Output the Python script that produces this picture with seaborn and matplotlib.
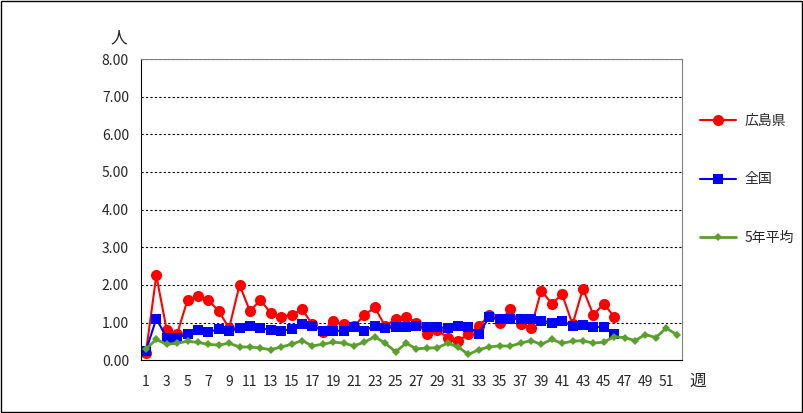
import matplotlib
matplotlib.use("Agg")
import matplotlib.pyplot as plt
import seaborn as sns
import pandas as pd

sns.set_style("white")
plt.rcParams['font.family'] = ['Noto Sans CJK JP', 'DejaVu Sans']

hiroshima = [0.2,2.25,0.8,0.7,1.6,1.7,1.6,1.3,0.85,2.0,1.3,1.6,1.25,1.15,1.2,1.35,0.95,0.75,1.05,0.95,
             0.9,1.2,1.4,0.9,1.1,1.15,1.0,0.7,0.8,0.6,0.5,0.7,0.9,1.2,1.0,1.35,0.95,0.85,1.85,1.5,
             1.75,0.95,1.9,1.2,1.5,1.15]
zenkoku = [0.25,1.1,0.6,0.6,0.7,0.8,0.75,0.82,0.78,0.85,0.9,0.85,0.8,0.78,0.82,0.95,0.92,0.78,0.78,0.78,
           0.88,0.78,0.92,0.85,0.88,0.88,0.9,0.88,0.88,0.85,0.9,0.88,0.7,1.15,1.08,1.1,1.1,1.08,1.05,1.0,
           1.05,0.9,0.93,0.88,0.88,0.7]
avg5 = [0.3,0.55,0.42,0.45,0.5,0.47,0.42,0.4,0.45,0.35,0.35,0.32,0.28,0.35,0.42,0.52,0.38,0.42,0.48,0.45,
        0.38,0.48,0.62,0.45,0.22,0.45,0.3,0.32,0.33,0.45,0.35,0.15,0.28,0.35,0.38,0.37,0.45,0.52,0.42,0.55,
        0.45,0.5,0.52,0.45,0.48,0.62,0.6,0.52,0.68,0.6,0.85,0.68]
labels = ["広島県", "全国", "5年平均"]

fig = plt.figure(figsize=(8.04, 4.13), dpi=100)
fig.patches.append(plt.Rectangle((0.001, 0.002), 0.997, 0.996, transform=fig.transFigure,
                                 fill=False, edgecolor='black', lw=1))
ax = fig.add_axes([0.175, 0.128, 0.673, 0.729])

sns.lineplot(x=range(1, len(hiroshima)+1), y=hiroshima, ax=ax, color='#ff0000', marker='o',
             markersize=8, markeredgewidth=0, lw=1.5, label=labels[0])
sns.lineplot(x=range(1, len(zenkoku)+1), y=zenkoku, ax=ax, color='#0000ff', marker='s',
             markersize=7, markeredgewidth=0, lw=1.5, label=labels[1])
sns.lineplot(x=range(1, len(avg5)+1), y=avg5, ax=ax, color='#5aa02c', marker='D',
             markersize=4, markeredgewidth=0, lw=2, label=labels[2])

ax.set_xlim(0.5, 52.5)
ax.set_ylim(0, 8)
ax.set_yticks(range(0, 9))
ax.set_yticklabels([f"{v:.2f}" for v in range(0, 9)], fontsize=10)
ax.set_xticks(range(1, 53))
ax.set_xticklabels([str(w) if w % 2 == 1 else "" for w in range(1, 53)], fontsize=10)
ax.tick_params(axis='both', direction='out', length=5, width=1, color='black')
ax.tick_params(axis='x', pad=6)
for y in range(1, 9):
    ax.axhline(y, color='black', lw=0.8, ls=(0, (2, 2)), zorder=0)
for s in ax.spines.values():
    s.set_color('black')
ax.spines['right'].set_color('#808080')
ax.spines['top'].set_color('#808080')
ax.text(-0.04, 1.07, "人", transform=ax.transAxes, fontsize=12, ha='center', va='center')
ax.text(1.03, -0.07, "週", transform=ax.transAxes, fontsize=12, ha='center', va='center')
ax.legend(loc='center left', bbox_to_anchor=(1.01, 0.6), frameon=False, fontsize=10,
          labelspacing=3.2, handlelength=2.6, handletextpad=0.6)
fig.savefig("out.png", dpi=100)
